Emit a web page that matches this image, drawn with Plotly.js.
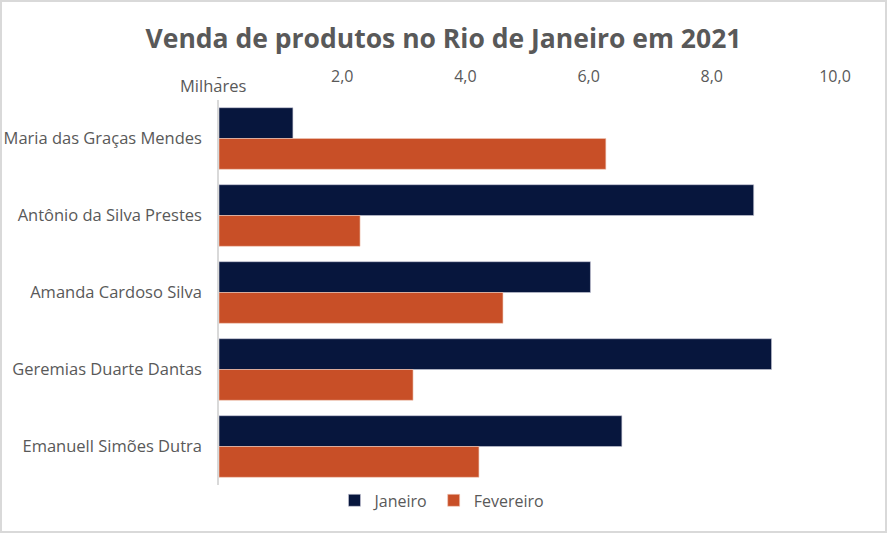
<!DOCTYPE html>
<html>
<head>
<meta charset="utf-8">
<script src="https://cdn.plot.ly/plotly-3.0.1.min.js"></script>
<style>
html,body{margin:0;padding:0;background:#fff;}
#chart{width:887px;height:533px;box-sizing:border-box;border:2px solid #d9d9d9;}
</style>
</head>
<body>
<div id="chart"></div>
<script>
const categories = ["Maria das Graças Mendes","Antônio da Silva Prestes","Amanda Cardoso Silva","Geremias Duarte Dantas","Emanuell Simões Dutra"];
const janeiro = [1.20, 8.68, 6.03, 8.97, 6.54];
const fevereiro = [6.28, 2.29, 4.61, 3.15, 4.22];
const tickVals = [0, 2, 4, 6, 8, 10];
const tickText = ["-", "2,0", "4,0", "6,0", "8,0", "10,0"];

const gray = "#595959";
const traces = [
  {type:"bar", orientation:"h", name:"Janeiro", y:categories, x:janeiro,
   marker:{color:"#07163d", line:{color:"#c9c9d9", width:0.6}}, hoverinfo:"x"},
  {type:"bar", orientation:"h", name:"Fevereiro", y:categories, x:fevereiro,
   marker:{color:"#c84f27", line:{color:"#f0c9b8", width:0.6}}, hoverinfo:"x"}
];
const layout = {
  width:883, height:529,
  margin:{l:217, r:50, t:98, b:46},
  paper_bgcolor:"#fff", plot_bgcolor:"#fff",
  font:{family:"Open Sans, sans-serif", color:gray, size:16},
  title:{text:"<b>Venda de produtos no Rio de Janeiro em 2021</b>", x:0.5, xanchor:"center", y:0.93, yanchor:"middle",
         font:{family:"Open Sans, sans-serif", size:26.5, color:gray}},
  barmode:"group", bargap:0.2, bargroupgap:0,
  xaxis:{side:"top", range:[0,10], tickvals:tickVals, ticktext:tickText, showgrid:false, zeroline:false,
         showline:false, ticks:"", ticklabelstandoff:14, tickfont:{size:16, color:gray}, fixedrange:true},
  yaxis:{autorange:"reversed", showline:true, linecolor:"#d9d9d9", linewidth:1.5, showgrid:false, zeroline:false,
         ticks:"", ticklabelstandoff:12, tickfont:{size:16.5, color:gray}, fixedrange:true},
  legend:{orientation:"h", x:0.362, xanchor:"center", y:-0.04, yanchor:"middle", font:{size:16, color:gray},
          traceorder:"normal"},
  annotations:[{text:"Milhares", xref:"paper", yref:"paper", x:0, y:1, xanchor:"center", yanchor:"middle",
                xshift:-6, yshift:15, showarrow:false, font:{size:16.5, color:gray}}]
};
Plotly.newPlot("chart", traces, layout, {displayModeBar:false});
</script>
</body>
</html>
